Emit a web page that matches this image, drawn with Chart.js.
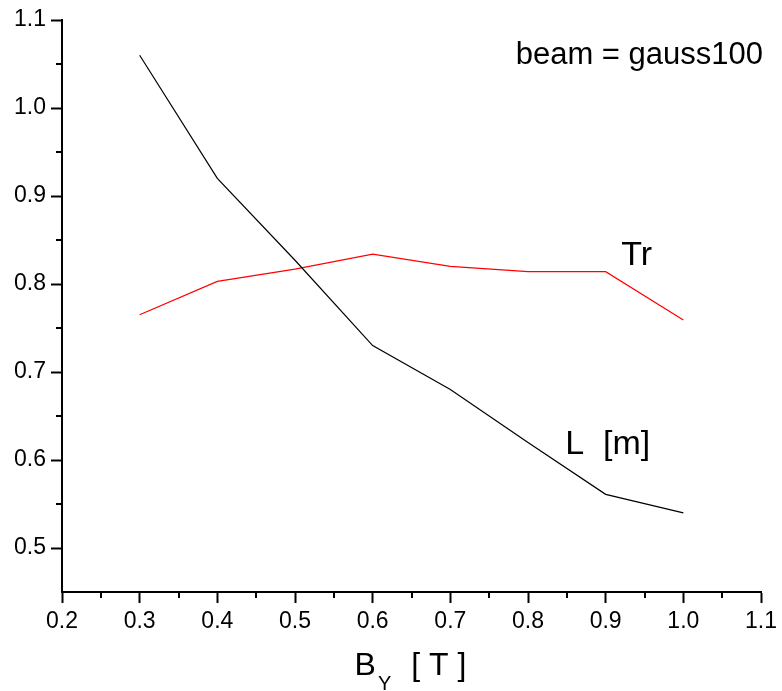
<!DOCTYPE html>
<html>
<head>
<meta charset="utf-8">
<script src="https://cdn.jsdelivr.net/npm/chart.js@4.4.1/dist/chart.umd.min.js"></script>
<style>
  html, body { margin: 0; padding: 0; background: #fff; }
  #wrap { width: 782px; height: 691px; }
</style>
</head>
<body>
<div id="wrap"><canvas id="byChart" width="782" height="691"></canvas></div>
<script>
// field values (x axis, tesla)
const fieldBY = [0.3, 0.4, 0.5, 0.6, 0.7, 0.8, 0.9, 1.0];
// length L [m]
const lengthL = [1.06, 0.92, 0.827, 0.73, 0.68, 0.62, 0.561, 0.54];
// transmission Tr
const transTr = [0.765, 0.803, 0.817, 0.834, 0.82, 0.814, 0.814, 0.759];

const xMinorTicks = [0.25, 0.35, 0.45, 0.55, 0.65, 0.75, 0.85, 0.95, 1.05];
const yMinorTicks = [0.55, 0.65, 0.75, 0.85, 0.95, 1.05];

const FONT = '"Liberation Sans", Arial, Helvetica, sans-serif';

function toPoints(xs, ys) {
    return xs.map((x, i) => ({ x: x, y: ys[i] }));
}

// minor ticks, curve labels and the axis title
const extrasPlugin = {
    id: 'extras',
    afterDraw(chart) {
        const ctx = chart.ctx;
        const xs = chart.scales.x, ys = chart.scales.y;
        const area = chart.chartArea;
        ctx.save();
        ctx.strokeStyle = '#000';
        ctx.lineWidth = 2;
        ctx.beginPath();
        xMinorTicks.forEach(v => {
            const px = Math.round(xs.getPixelForValue(v));
            ctx.moveTo(px, area.bottom);
            ctx.lineTo(px, area.bottom + 6);
        });
        yMinorTicks.forEach(v => {
            const py = Math.round(ys.getPixelForValue(v));
            ctx.moveTo(area.left - 6, py);
            ctx.lineTo(area.left, py);
        });
        ctx.stroke();

        ctx.fillStyle = '#000';
        ctx.textBaseline = 'alphabetic';

        ctx.font = '31px ' + FONT;
        ctx.textAlign = 'right';
        ctx.fillText('beam = gauss100', area.right + 2, 64);

        ctx.textAlign = 'left';
        ctx.font = '34px ' + FONT;
        ctx.fillText('Tr', xs.getPixelForValue(0.92), ys.getPixelForValue(0.822));
        ctx.fillText('L  [m]', xs.getPixelForValue(0.848), ys.getPixelForValue(0.607));

        // axis title B_Y [ T ]
        ctx.font = '32px ' + FONT;
        const wB = ctx.measureText('B').width;
        const wT = ctx.measureText('[ T ]').width;
        ctx.font = '20px ' + FONT;
        const wY = ctx.measureText('Y').width;
        const total = wB + 2 + wY + 20 + wT;
        let x0 = (area.left + area.right) / 2 - total / 2 - 1;
        ctx.font = '32px ' + FONT;
        ctx.fillText('B', x0, 675);
        ctx.font = '20px ' + FONT;
        ctx.fillText('Y', x0 + wB + 2, 690);
        ctx.font = '32px ' + FONT;
        ctx.fillText('[ T ]', x0 + wB + 2 + wY + 20, 675);
        ctx.restore();
    }
};

const axisStyle = {
    grid: {
        drawOnChartArea: false,
        drawTicks: true,
        tickLength: 11,
        tickWidth: 2,
        tickColor: '#000'
    },
    border: { display: true, width: 2, color: '#000' }
};

const config = {
    type: 'line',
    data: {
        datasets: [
            {
                label: 'L [m]',
                data: toPoints(fieldBY, lengthL),
                borderColor: '#000',
                borderWidth: 1.2,
                pointRadius: 0,
                fill: false,
                tension: 0
            },
            {
                label: 'Tr',
                data: toPoints(fieldBY, transTr),
                borderColor: '#ff0000',
                borderWidth: 1.2,
                pointRadius: 0,
                fill: false,
                tension: 0
            }
        ]
    },
    options: {
        responsive: false,
        animation: false,
        devicePixelRatio: 1,
        layout: { padding: { top: 20, right: 16, left: 0, bottom: 0 } },
        plugins: {
            legend: { display: false },
            tooltip: { enabled: false }
        },
        scales: {
            x: Object.assign({
                type: 'linear',
                min: 0.2,
                max: 1.1,
                ticks: {
                    stepSize: 0.1,
                    color: '#000',
                    font: { family: FONT, size: 23 },
                    padding: 5,
                    maxRotation: 0,
                    callback: v => Number(v).toFixed(1)
                },
                afterFit: s => { s.height = 99; }
            }, axisStyle),
            y: Object.assign({
                type: 'linear',
                min: 0.45,
                max: 1.1,
                ticks: {
                    stepSize: 0.1,
                    color: '#000',
                    font: { family: FONT, size: 23 },
                    padding: 5,
                    callback: v => Number(v).toFixed(1)
                },
                afterBuildTicks: s => { s.ticks = s.ticks.filter(t => t.value > 0.47); },
                afterFit: s => { s.width = 62; }
            }, axisStyle)
        }
    },
    plugins: [extrasPlugin]
};

const byChart = new Chart(document.getElementById('byChart'), config);
</script>
</body>
</html>
